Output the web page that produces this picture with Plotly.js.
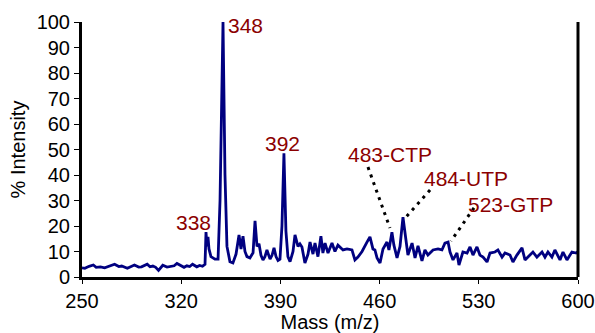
<!DOCTYPE html>
<html>
<head>
<meta charset="utf-8">
<script src="https://cdn.plot.ly/plotly-3.0.1.min.js"></script>
<style>html,body{margin:0;padding:0;background:#fff}#chart{width:595px;height:333px}</style>
</head>
<body>
<div id="chart"></div>
<script>
// Spectrum: mass (m/z) and % intensity
const mass = [250,252,255,258,260,263,266,270,273,276,278,282,285,287,290,292,296,298,300,302,304,306,307,310,312,315,317,320,322,324,326,328,331,333,335,
  336.8,337.5,338.2,338.9,339.6,341,343.8,346,347.4,349.5,350.9,352.3,354.4,356.5,358.7,360.8,362.2,363.6,365,366.4,368.5,370.7,372.1,373.5,374.9,376.3,377.7,379.1,380.5,382.7,384.1,385.5,386.9,388.3,389.7,391.1,392.5,393.9,395.3,396.8,398.9,400.3,402.4,403.8,405.2,407.3,409.5,410.9,413,414.4,416.5,417.9,418.6,420,
  421.5,423.6,426.4,428.5,430.6,434.2,437,440.5,442.6,444.7,447.6,451.1,453.2,455.3,456.7,458.2,460.3,462.4,465.2,466.6,468.7,470.1,472.3,474.4,476.5,478.6,480,482.9,485,487.1,489.9,492,494.1,497.7,501.2,504,506.1,508.3,509.7,511.8,514.6,516,518.8,521.7,523.8,525.9,528.7,530.8,533,535.8,537.9,541.4,543.5,546.4,548.5,552,554.1,556.9,560.5,562.6,566.1,568.2,571,574.6,576.7,578.8,581.6,583.7,587.3,589.4,592.2,595.7,598.6,600];
const intensity = [3.6,3.4,4.2,4.7,3.8,4.0,3.6,4.3,5.0,4.1,4.3,3.4,4.0,4.7,3.9,4.0,5.0,4.0,4.3,3.8,2.6,3.7,4.6,3.9,4.0,4.4,5.3,4.2,3.8,4.4,4.1,5.0,4.0,4.5,4.2,
  5,17.6,12,15.7,11,8,7,7,30,100,40,12,6,5.5,9,16.5,11,16,10,8,7.5,9.5,22,12,13,8.5,6.7,8,10.6,7,8.5,11.4,8,6.5,7,20,48.5,18,8,6,10,16.5,12,13,11.8,5.5,9,13.7,9,13.3,8,12.5,16,9.4,
  13.3,9.4,13.3,10,12.5,10.6,11,10.6,6.7,7.8,10,13.7,15.7,11,10.6,7.5,5.5,11,13.7,10.6,17.6,12.5,7.5,12,23.5,14.5,8.6,13.3,7.5,12.2,6.3,10.6,8.6,10.6,11,10.6,13.3,13.7,9.8,6.7,9.4,4.7,9.8,9.4,11.8,8.6,11.8,8.6,7.8,5.9,9.4,9.8,10.6,7.8,9.4,8.6,5.9,8.6,11.4,6.7,8.6,9.8,7.8,9.8,7.8,9.8,7.8,10.6,6.7,9.8,6.7,9.8,9.4,10];

// Peak labels
const labelText = ["348","392","338","483-CTP","484-UTP","523-GTP"];
const labelX = [365.4,391.5,328.7,467,521.3,552.3];
const labelY = [98.8,52.3,21.4,48,38.8,28.4];

// Dotted leader lines (label end -> peak end)
const leadX0 = [451.8,495.6,526.6];
const leadY0 = [43.1,34.1,27.1];
const leadX1 = [467.3,477.9,510.4];
const leadY1 = [19.2,23.1,14.1];

// Axis ticks
const xTicks = [250,320,390,460,530,600];
const yTicks = [0,10,20,30,40,50,60,70,80,90,100];

const FONT = '"Liberation Sans", Arial, sans-serif';

const trace = {
  x: mass, y: intensity, type: 'scatter', mode: 'lines',
  line: {color: '#000080', width: 2.8}, hoverinfo: 'skip'
};

const annotations = labelText.map((t, i) => ({
  x: labelX[i], y: labelY[i], xref: 'x', yref: 'y', text: t, showarrow: false,
  xanchor: 'center', yanchor: 'middle',
  font: {family: FONT, size: 21, color: '#8b0000'}
}));

const shapes = leadX0.map((x0, i) => ({
  type: 'line', xref: 'x', yref: 'y', x0: x0, y0: leadY0[i], x1: leadX1[i], y1: leadY1[i],
  line: {color: '#000', width: 3, dash: '3px,5px'}
}));
shapes.push({type: 'line', xref: 'paper', yref: 'paper', x0: 1, x1: 1, y0: 0, y1: 1,
  line: {color: '#000', width: 3}});

const layout = {
  width: 595, height: 333,
  margin: {l: 82, r: 17, t: 22, b: 56, pad: 0},
  paper_bgcolor: '#fff', plot_bgcolor: '#fff',
  showlegend: false,
  font: {family: FONT, color: '#000'},
  xaxis: {
    range: [250, 600], tickvals: xTicks, ticktext: xTicks.map(String),
    showgrid: false, zeroline: false, showline: true, linecolor: '#000', linewidth: 3,
    ticks: 'outside', ticklen: 4, tickwidth: 1, tickcolor: '#000',
    tickfont: {family: FONT, size: 20, color: '#000'},
    title: {text: 'Mass (m/z)', font: {family: FONT, size: 20, color: '#000'}, standoff: 3}
  },
  yaxis: {
    range: [0, 100], tickvals: yTicks, ticktext: yTicks.map(String),
    showgrid: false, zeroline: false, showline: true, linecolor: '#000', linewidth: 3,
    ticks: 'outside', ticklen: 5, tickwidth: 1, tickcolor: '#000',
    tickfont: {family: FONT, size: 20, color: '#000'},
    title: {text: '% Intensity', font: {family: FONT, size: 20, color: '#000'}, standoff: 6}
  },
  annotations: annotations,
  shapes: shapes
};

Plotly.newPlot('chart', [trace], layout, {staticPlot: true, displayModeBar: false});
</script>
</body>
</html>
